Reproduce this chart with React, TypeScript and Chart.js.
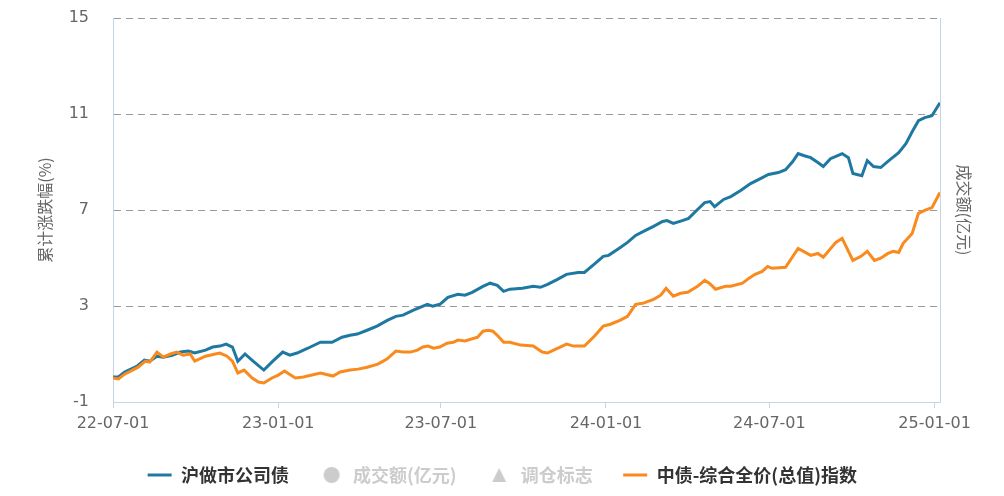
import { useEffect, useRef } from "react";
import { Chart, registerables } from "chart.js";

Chart.register(...registerables);

// 起点与 x 轴刻度
const startDate = "2022-07-01";
const xTickDates = ["2022-07-01", "2023-01-01", "2023-07-01", "2024-01-01", "2024-07-01", "2025-01-01"];
const xTickLabels = ["22-07-01", "23-01-01", "23-07-01", "24-01-01", "24-07-01", "25-01-01"];

// 沪做市公司债
const bondDates = [
  "2022-07-01", "2022-07-07", "2022-07-14", "2022-07-28", "2022-08-05", "2022-08-11", "2022-08-19", "2022-08-26",
  "2022-09-05", "2022-09-14", "2022-09-23", "2022-09-30", "2022-10-12", "2022-10-20", "2022-10-28", "2022-11-04",
  "2022-11-11", "2022-11-17", "2022-11-25", "2022-12-04", "2022-12-16", "2022-12-26", "2023-01-06", "2023-01-14",
  "2023-01-22", "2023-02-03", "2023-02-17", "2023-03-02", "2023-03-13", "2023-03-22", "2023-03-30", "2023-04-10",
  "2023-04-21", "2023-05-03", "2023-05-12", "2023-05-20", "2023-05-31", "2023-06-16", "2023-06-22", "2023-06-30",
  "2023-07-09", "2023-07-20", "2023-07-28", "2023-08-05", "2023-08-17", "2023-08-25", "2023-09-02", "2023-09-09",
  "2023-09-16", "2023-09-30", "2023-10-12", "2023-10-20", "2023-10-28", "2023-11-08", "2023-11-18", "2023-12-01",
  "2023-12-08", "2023-12-20", "2023-12-29", "2024-01-04", "2024-01-17", "2024-01-25", "2024-02-03", "2024-02-14",
  "2024-02-23", "2024-03-04", "2024-03-09", "2024-03-16", "2024-03-26", "2024-04-02", "2024-04-12", "2024-04-20",
  "2024-04-26", "2024-05-01", "2024-05-11", "2024-05-19", "2024-05-30", "2024-06-10", "2024-06-21", "2024-06-30",
  "2024-07-11", "2024-07-19", "2024-07-27", "2024-08-02", "2024-08-08", "2024-08-16", "2024-08-24", "2024-08-30",
  "2024-09-07", "2024-09-15", "2024-09-20", "2024-09-27", "2024-10-02", "2024-10-12", "2024-10-18", "2024-10-25",
  "2024-11-02", "2024-11-11", "2024-11-22", "2024-11-30", "2024-12-07", "2024-12-14", "2024-12-21", "2024-12-29",
  "2025-01-07",
];
const bondValues = [
  0.04, 0.04, 0.25, 0.5, 0.75, 0.7, 0.91, 0.87,
  0.95, 1.08, 1.12, 1.04, 1.16, 1.29, 1.33, 1.41,
  1.29, 0.7, 1.0, 0.7, 0.33, 0.7, 1.08, 0.95,
  1.04, 1.24, 1.49, 1.49, 1.7, 1.78, 1.83, 1.99,
  2.16, 2.41, 2.57, 2.62, 2.82, 3.07, 2.99, 3.07,
  3.36, 3.49, 3.45, 3.57, 3.82, 3.95, 3.86, 3.61,
  3.7, 3.74, 3.82, 3.78, 3.9, 4.11, 4.32, 4.4,
  4.4, 4.78, 5.07, 5.11, 5.44, 5.65, 5.94, 6.15,
  6.32, 6.52, 6.56, 6.44, 6.56, 6.65, 7.02, 7.31,
  7.35, 7.14, 7.44, 7.56, 7.81, 8.1, 8.31, 8.48,
  8.56, 8.68, 9.02, 9.35, 9.27, 9.18, 8.98, 8.81,
  9.14, 9.27, 9.35, 9.18, 8.52, 8.43, 9.06, 8.81,
  8.77, 9.06, 9.39, 9.76, 10.26, 10.72, 10.85, 10.93,
  11.47,
];

// 中债-综合全价(总值)指数
const indexDates = [
  "2022-07-01", "2022-07-07", "2022-07-14", "2022-07-29", "2022-08-06", "2022-08-11", "2022-08-19", "2022-08-26",
  "2022-09-03", "2022-09-10", "2022-09-17", "2022-09-25", "2022-09-30", "2022-10-12", "2022-10-23", "2022-10-28",
  "2022-11-05", "2022-11-11", "2022-11-17", "2022-11-24", "2022-12-03", "2022-12-10", "2022-12-16", "2022-12-25",
  "2023-01-01", "2023-01-08", "2023-01-20", "2023-01-29", "2023-02-17", "2023-03-03", "2023-03-11", "2023-03-22",
  "2023-03-31", "2023-04-10", "2023-04-22", "2023-05-02", "2023-05-12", "2023-05-20", "2023-05-28", "2023-06-05",
  "2023-06-11", "2023-06-17", "2023-06-23", "2023-06-30", "2023-07-08", "2023-07-15", "2023-07-20", "2023-07-28",
  "2023-08-11", "2023-08-17", "2023-08-23", "2023-08-28", "2023-09-03", "2023-09-09", "2023-09-16", "2023-09-28",
  "2023-10-12", "2023-10-22", "2023-10-28", "2023-11-06", "2023-11-11", "2023-11-18", "2023-11-26", "2023-12-08",
  "2023-12-19", "2023-12-29", "2024-01-06", "2024-01-17", "2024-01-25", "2024-02-03", "2024-02-11", "2024-02-23",
  "2024-03-02", "2024-03-08", "2024-03-16", "2024-03-24", "2024-04-01", "2024-04-12", "2024-04-20", "2024-04-25",
  "2024-05-02", "2024-05-13", "2024-05-19", "2024-06-01", "2024-06-08", "2024-06-15", "2024-06-23", "2024-06-29",
  "2024-07-04", "2024-07-19", "2024-08-02", "2024-08-16", "2024-08-24", "2024-08-30", "2024-09-13", "2024-09-20",
  "2024-10-02", "2024-10-11", "2024-10-18", "2024-10-26", "2024-11-02", "2024-11-10", "2024-11-16", "2024-11-22",
  "2024-11-27", "2024-12-07", "2024-12-14", "2024-12-21", "2024-12-29", "2025-01-07",
];
const indexValues = [
  0.0, -0.04, 0.16, 0.45, 0.7, 0.66, 1.08, 0.87,
  1.0, 1.08, 0.95, 1.0, 0.7, 0.91, 1.0, 1.04,
  0.91, 0.7, 0.21, 0.33, 0.0, -0.17, -0.21, 0.0,
  0.12, 0.29, 0.0, 0.04, 0.21, 0.08, 0.25, 0.33,
  0.37, 0.45, 0.58, 0.79, 1.12, 1.08, 1.08, 1.16,
  1.29, 1.33, 1.24, 1.29, 1.45, 1.49, 1.58, 1.54,
  1.7, 1.95, 1.99, 1.95, 1.74, 1.49, 1.49, 1.37,
  1.33, 1.08, 1.04, 1.2, 1.29, 1.41, 1.33, 1.33,
  1.74, 2.16, 2.24, 2.41, 2.57, 3.07, 3.11, 3.28,
  3.45, 3.74, 3.41, 3.53, 3.57, 3.82, 4.07, 3.95,
  3.7, 3.82, 3.82, 3.95, 4.15, 4.32, 4.44, 4.65,
  4.57, 4.61, 5.4, 5.11, 5.19, 5.03, 5.65, 5.82,
  4.9, 5.07, 5.28, 4.9, 4.99, 5.19, 5.28, 5.23,
  5.61, 6.02, 6.86, 6.98, 7.1, 7.73,
];

const legendNames = ["沪做市公司债", "成交额(亿元)", "调仓标志", "中债-综合全价(总值)指数"];

const BLUE = "#1f78a2";
const ORANGE = "#f98a1d";
const AXIS = "#c6d4e8";
const MUTED = "#cccccc";
const FONT = "'Noto Sans CJK SC', 'Noto Sans', sans-serif";
const NUM_FONT = "'DejaVu Sans', sans-serif";

const dayOf = (d: string) => Math.round((Date.parse(d) - Date.parse(startDate)) / 86400000);

function makeIcon(kind: string, color: string) {
  const c = document.createElement("canvas");
  c.width = 26;
  c.height = 18;
  const g = c.getContext("2d")!;
  g.fillStyle = color;
  g.strokeStyle = color;
  if (kind === "line") {
    g.lineWidth = 3;
    g.beginPath();
    g.moveTo(1, 9);
    g.lineTo(25, 9);
    g.stroke();
  } else if (kind === "circle") {
    g.beginPath();
    g.arc(13, 9, 8, 0, Math.PI * 2);
    g.fill();
  } else {
    g.beginPath();
    g.moveTo(13, 2);
    g.lineTo(20, 16);
    g.lineTo(6, 16);
    g.closePath();
    g.fill();
  }
  return c;
}

export default function App() {
  const canvasRef = useRef<HTMLCanvasElement | null>(null);
  const chartRef = useRef<Chart | null>(null);

  useEffect(() => {
    if (!canvasRef.current) return;
    chartRef.current?.destroy();

    const icons = [
      makeIcon("line", BLUE),
      makeIcon("circle", MUTED),
      makeIcon("triangle", MUTED),
      makeIcon("line", ORANGE),
    ];
    const legendColors = ["#333", MUTED, MUTED, "#333"];
    const tickFont = { family: NUM_FONT, size: 16 };
    const titleFont = { family: FONT, size: 16 };

    chartRef.current = new Chart(canvasRef.current, {
      type: "line",
      data: {
        datasets: [
          {
            label: legendNames[0],
            data: bondDates.map((d, i) => ({ x: dayOf(d), y: bondValues[i] })),
            borderColor: BLUE,
            borderWidth: 3,
            pointRadius: 0,
            order: 2,
          },
          { label: legendNames[1], data: [], hidden: true, yAxisID: "y1" },
          { label: legendNames[2], data: [], hidden: true, yAxisID: "y1" },
          {
            label: legendNames[3],
            data: indexDates.map((d, i) => ({ x: dayOf(d), y: indexValues[i] })),
            borderColor: ORANGE,
            borderWidth: 3,
            pointRadius: 0,
            order: 1,
          },
        ],
      },
      options: {
        responsive: false,
        animation: false,
        layout: { padding: { top: 10, left: 0, right: 0, bottom: 0 } },
        plugins: {
          tooltip: { enabled: false },
          legend: {
            position: "bottom",
            onClick: () => {},
            labels: {
              usePointStyle: true,
              pointStyleWidth: 25,
              padding: 30,
              font: { family: FONT, size: 18, weight: "bold" },
              generateLabels: () =>
                legendNames.map((text, i) => ({
                  text,
                  pointStyle: icons[i],
                  fontColor: legendColors[i],
                  hidden: false,
                  datasetIndex: i,
                  lineWidth: 0,
                  fillStyle: "rgba(0,0,0,0)",
                  strokeStyle: "rgba(0,0,0,0)",
                })),
            },
          },
        },
        scales: {
          x: {
            type: "linear",
            min: 0,
            max: dayOf(bondDates[bondDates.length - 1]),
            afterBuildTicks: (s: any) => {
              s.ticks = xTickDates.map((d) => ({ value: dayOf(d) }));
            },
            afterFit: (s: any) => {
              s.height = 34;
            },
            ticks: {
              autoSkip: false,
              maxRotation: 0,
              padding: 6,
              font: tickFont,
              color: "#666",
              callback: (_v: any, i: number) => xTickLabels[i],
            },
            grid: { drawOnChartArea: false, tickLength: 6, color: AXIS },
            border: { color: AXIS, width: 1 },
          },
          y: {
            min: -1,
            max: 15,
            afterFit: (s: any) => {
              s.width = 105;
            },
            ticks: { stepSize: 4, padding: 0, font: tickFont, color: "#666" },
            grid: {
              drawTicks: true,
              tickLength: 24,
              tickColor: "rgba(0,0,0,0)",
              color: (c: any) => (c.tick && c.tick.value === -1 ? "rgba(0,0,0,0)" : "#9a9a9a"),
            },
            border: { color: AXIS, width: 1, dash: [7, 5] },
            title: {
              display: true,
              text: "累计涨跌幅(%)",
              font: titleFont,
              color: "#666",
              padding: { top: 27, bottom: 0 },
            },
          },
          y1: {
            position: "right",
            min: 0,
            max: 1,
            afterFit: (s: any) => {
              s.width = 56;
            },
            ticks: { display: false },
            grid: { display: false },
            border: { color: AXIS, width: 1 },
            title: {
              display: true,
              text: "成交额(亿元)",
              font: titleFont,
              color: "#666",
              padding: { top: 22, bottom: 0 },
            },
          },
        },
      },
    });

    return () => {
      chartRef.current?.destroy();
      chartRef.current = null;
    };
  }, []);

  return <canvas ref={canvasRef} width={988} height={486}></canvas>;
}
